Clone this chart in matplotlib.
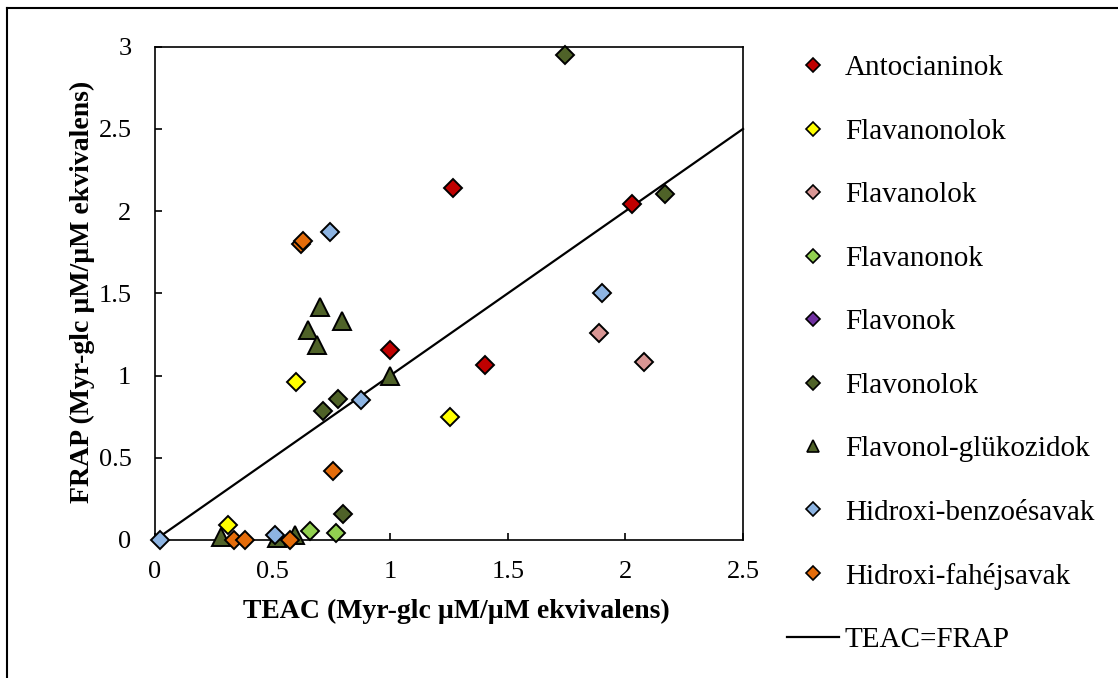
import matplotlib
matplotlib.use("Agg")
import matplotlib.pyplot as plt
from matplotlib.lines import Line2D

plt.rcParams['font.family'] = ['Liberation Serif', 'DejaVu Serif']

# ---- data ----
series_names = ["Antocianinok", "Flavanonolok", "Flavanolok", "Flavanonok",
                "Flavonok", "Flavonolok", "Flavonol-glükozidok",
                "Hidroxi-benzoésavak", "Hidroxi-fahéjsavak"]

antocianinok_teac = [1.00, 1.266, 2.03, 1.402]
antocianinok_frap = [1.155, 2.138, 2.043, 1.066]

flavanonolok_teac = [0.31, 0.60, 1.254]
flavanonolok_frap = [0.09, 0.96, 0.75]

flavanolok_teac = [1.888, 2.08]
flavanolok_frap = [1.256, 1.084]

flavanonok_teac = [0.66, 0.77]
flavanonok_frap = [0.057, 0.04]

flavonok_teac = []
flavonok_frap = []

flavonolok_teac = [1.743, 2.17, 0.78, 0.716, 0.80]
flavonolok_frap = [2.948, 2.107, 0.855, 0.786, 0.16]

glukozidok_teac = [0.70, 0.794, 0.652, 0.687, 1.00, 0.28, 0.52, 0.595]
glukozidok_frap = [1.42, 1.33, 1.28, 1.185, 1.00, 0.02, 0.01, 0.03]

benzoe_teac = [0.02, 0.51, 0.876, 0.744, 1.902]
benzoe_frap = [0.00, 0.03, 0.851, 1.874, 1.503]

fahej_teac = [0.336, 0.384, 0.574, 0.62, 0.63, 0.758]
fahej_frap = [0.00, 0.00, 0.00, 1.80, 1.82, 0.42]

line_x = [0, 2.5]
line_y = [0, 2.5]

x_ticks = [0, 0.5, 1, 1.5, 2, 2.5]
x_ticklabels = ["0", "0.5", "1", "1.5", "2", "2.5"]
y_ticks = [0, 0.5, 1, 1.5, 2, 2.5, 3]
y_ticklabels = ["0", "0.5", "1", "1.5", "2", "2.5", "3"]

colors = ["#C00000", "#FFFF00", "#D99694", "#92D050", "#7030A0",
          "#4F6228", "#4F6228", "#8DB4E2", "#E46C0A"]
markers = ["D", "D", "D", "D", "D", "D", "^", "D", "D"]

data = [
    (antocianinok_teac, antocianinok_frap),
    (flavanonolok_teac, flavanonolok_frap),
    (flavanolok_teac, flavanolok_frap),
    (flavanonok_teac, flavanonok_frap),
    (flavonok_teac, flavonok_frap),
    (flavonolok_teac, flavonolok_frap),
    (glukozidok_teac, glukozidok_frap),
    (benzoe_teac, benzoe_frap),
    (fahej_teac, fahej_frap),
]

# ---- figure ----
W, H = 1118, 678
fig = plt.figure(figsize=(W/100, H/100), dpi=100)
ax = fig.add_axes([155/W, 1-540/H, (743-155)/W, (540-46.7)/H])

for (xs, ys), name, c, m in zip(data, series_names, colors, markers):
    ms = 12.5 if m == "^" else 9
    ax.plot(xs, ys, linestyle="none", marker=m, markersize=ms,
            markerfacecolor=c, markeredgecolor="black",
            markeredgewidth=1.4, clip_on=False, zorder=3, label=name)

ax.plot(line_x, line_y, color="black", linewidth=1.6, zorder=2,
        clip_on=False, label="TEAC=FRAP")

ax.set_xlim(0, 2.5)
ax.set_ylim(0, 3)
ax.set_xticks(x_ticks)
ax.set_xticklabels(x_ticklabels)
ax.set_yticks(y_ticks)
ax.set_yticklabels(y_ticklabels)
ax.tick_params(direction="in", length=5, width=1.2, labelsize=19, color="black")
ax.tick_params(axis="x", pad=15)
ax.tick_params(axis="y", pad=17)
for s in ax.spines.values():
    s.set_linewidth(1.2)
    s.set_color("black")

fig.text(456/W, 1-611/H, "TEAC (Myr-glc µM/µM ekvivalens)", fontsize=20,
         fontweight="bold", ha="center", va="center")
fig.text(82/W, 1-292/H, "FRAP (Myr-glc µM/µM ekvivalens)", fontsize=20,
         fontweight="bold", ha="center", va="center", rotation=90)

# legend handles
leg_handles = []
for name, c, m in zip(series_names, colors, markers):
    leg_handles.append(Line2D([], [], linestyle="none", marker=m,
                              markersize=8.5 if m == "^" else 7,
                              markerfacecolor=c, markeredgecolor="black",
                              markeredgewidth=1.2, label=name))
leg_handles.append(Line2D([], [], color="black", linewidth=1.6,
                          label="TEAC=FRAP"))

fig.legend(handles=leg_handles, loc="upper left",
           bbox_to_anchor=(787/W, 1-55/H), frameon=False,
           fontsize=21, handlelength=1.78, handletextpad=0.2,
           labelspacing=1.27, borderaxespad=0, borderpad=0)

# outer chart border (left and top visible)
fig.add_artist(Line2D([7/W, 7/W], [0, 1-8/H], color="black",
                      linewidth=1.5, transform=fig.transFigure))
fig.add_artist(Line2D([7/W, 1], [1-8/H, 1-8/H], color="black",
                      linewidth=1.5, transform=fig.transFigure))

fig.savefig("out.png", dpi=100)
